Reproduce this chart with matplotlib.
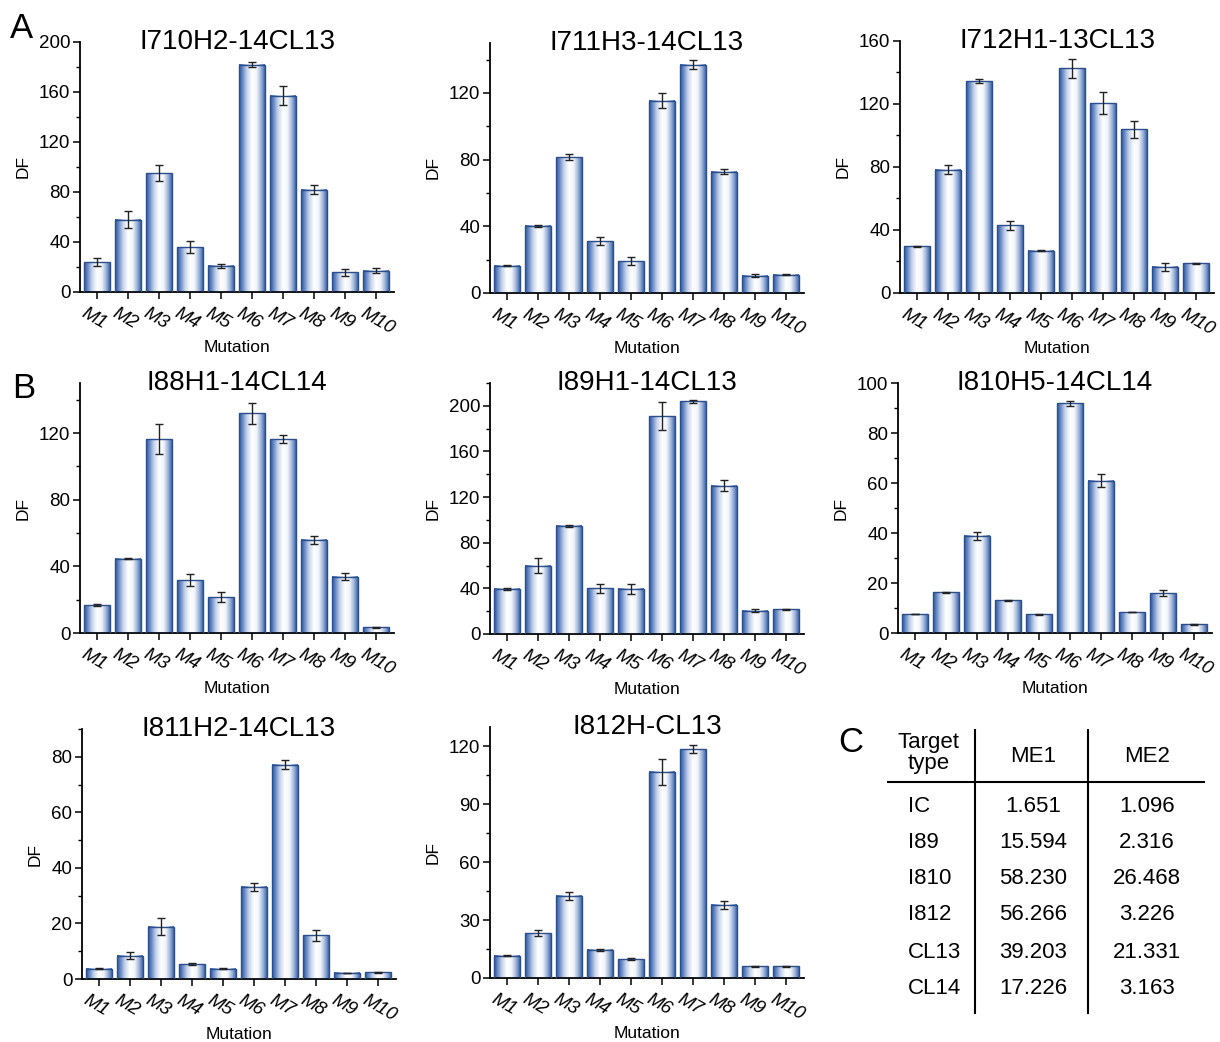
import matplotlib
matplotlib.use("Agg")
import matplotlib.pyplot as plt
import numpy as np
from matplotlib.colors import LinearSegmentedColormap
from matplotlib.ticker import MultipleLocator
from matplotlib.lines import Line2D
from matplotlib.transforms import ScaledTranslation

plt.rcParams["font.family"] = ["Liberation Sans", "DejaVu Sans"]

mutations = ["M1", "M2", "M3", "M4", "M5", "M6", "M7", "M8", "M9", "M10"]

titles = ["I710H2-14CL13", "I711H3-14CL13", "I712H1-13CL13",
          "I88H1-14CL14", "I89H1-14CL13", "I810H5-14CL14",
          "I811H2-14CL13", "I812H-CL13"]

df_i710 = [24, 58, 95, 36, 21, 182, 157, 82, 15.7, 17]
err_i710 = [3, 7, 6.5, 5, 1.6, 2, 7.7, 3.5, 3, 2]
df_i711 = [16.4, 40.3, 81.5, 31, 19.2, 115.4, 137, 72.7, 10.4, 11]
err_i711 = [0.5, 0.5, 2, 2.5, 2.5, 4.4, 2.7, 1.6, 0.8, 0.4]
df_i712 = [29.8, 78.3, 134.6, 43, 26.9, 142.6, 120.4, 104.1, 16.7, 18.8]
err_i712 = [0.3, 3, 1.5, 3, 0.5, 5.9, 7, 5.4, 2.5, 0.3]
df_i88 = [16.8, 44.6, 116.4, 31.8, 21.4, 131.8, 116.4, 56, 33.8, 3.4]
err_i88 = [0.6, 0.3, 9.2, 3.8, 3, 6.2, 2.2, 2.5, 2, 0.3]
df_i89 = [39.5, 60, 94.7, 40, 39.5, 191, 203.8, 130, 20.5, 21.6]
err_i89 = [1, 6.9, 1.2, 4, 4.5, 12, 1, 4.8, 1.5, 0.6]
df_i810 = [7.6, 16.3, 38.9, 13.1, 7.6, 91.9, 61, 8.4, 15.9, 3.5]
err_i810 = [0.1, 0.1, 1.7, 0.2, 0.2, 1.1, 2.7, 0.1, 1.2, 0.2]
df_i811 = [3.7, 8.4, 18.9, 5.3, 3.7, 33.2, 77.2, 15.7, 2.2, 2.4]
err_i811 = [0.1, 1.3, 2.9, 0.3, 0.1, 1.5, 1.7, 1.9, 0.1, 0.1]
df_i812 = [11.5, 23.2, 42.5, 14.6, 9.8, 106.7, 118.6, 37.9, 6, 6]
err_i812 = [0.3, 1.7, 2.3, 0.5, 0.3, 6.9, 1.9, 2.1, 0.3, 0.2]

all_vals = [df_i710, df_i711, df_i712, df_i88, df_i89, df_i810, df_i811, df_i812]
all_errs = [err_i710, err_i711, err_i712, err_i88, err_i89, err_i810, err_i811, err_i812]

# axis settings: (ymax, major step, minor step)
ysets = [(200, 40, 20), (150, 40, 20), (160, 40, 20),
         (150, 40, 20), (220, 40, 20), (100, 20, 10),
         (90, 20, 10), (130, 30, 15)]

# table C
tab_types = ["IC", "I89", "I810", "I812", "CL13", "CL14"]
tab_me1 = ["1.651", "15.594", "58.230", "56.266", "39.203", "17.226"]
tab_me2 = ["1.096", "2.316", "26.468", "3.226", "21.331", "3.163"]

W, H = 1220, 1042
fig = plt.figure(figsize=(12.2, 10.42), dpi=100)

# positions in pixels: left, bottom(y of x-axis), top
boxes = [(80, 292, 42), (490, 293, 43), (900, 293, 41),
         (80, 633, 383), (490, 634, 383), (898, 633, 383),
         (82, 979, 729), (490, 978, 727)]
axw = 314

grad = LinearSegmentedColormap.from_list(
    "bargrad", [(0.0, "#2a57a2"), (0.12, "#5f82bf"), (0.3, "#c3d1ea"),
                (0.5, "#ffffff"), (0.68, "#f2f5fb"), (0.85, "#9fb4da"),
                (1.0, "#3a64ab")])
gimg = np.linspace(0, 1, 256).reshape(1, -1)

x = np.arange(1, 11)
bw = 0.82

for i in range(8):
    l, b, t = boxes[i]
    ax = fig.add_axes([l / W, 1 - b / H, axw / W, (b - t) / H])
    vals = all_vals[i]
    errs = all_errs[i]
    bars = ax.bar(x, vals, width=bw, color="none", edgecolor="#2c4f8c",
                  linewidth=1.0, zorder=3)
    for rect in bars:
        x0 = rect.get_x()
        ax.imshow(gimg, cmap=grad, extent=[x0, x0 + rect.get_width(), 0, rect.get_height()],
                  aspect="auto", zorder=2, interpolation="bilinear")
    ax.errorbar(x, vals, yerr=errs, fmt="none", ecolor="#222222",
                elinewidth=1.0, capsize=2.8, capthick=1.0, zorder=4)
    ymax, maj, mnr = ysets[i]
    ax.set_xlim(0.45, 10.58)
    ax.set_ylim(0, ymax)
    ax.yaxis.set_major_locator(MultipleLocator(maj))
    ax.yaxis.set_minor_locator(MultipleLocator(mnr))
    ax.set_xticks(x)
    ax.set_xticklabels(mutations, rotation=-30, ha="left", va="top",
                       fontstyle="italic", fontsize=13.5, rotation_mode="anchor")
    ax.tick_params(axis="y", labelsize=13.5, direction="out", length=5, width=1.1, pad=2)
    ax.tick_params(axis="y", which="minor", direction="out", length=3, width=1.0)
    ax.tick_params(axis="x", direction="out", length=5, width=1.1, pad=4)
    for s in ["top", "right"]:
        ax.spines[s].set_visible(False)
    for s in ["left", "bottom"]:
        ax.spines[s].set_linewidth(1.3)
    ax.set_ylabel("DF", fontsize=12.5, labelpad=6)
    ax.set_xlabel("Mutation", fontsize=12.5, labelpad=2)
    ax.text(0.5, 1.0, titles[i], transform=ax.transAxes, ha="center",
            va="center", fontsize=20, zorder=6)
    # nudge tick labels left so they sit under the ticks
    off = ScaledTranslation(-10 / 100, 0, fig.dpi_scale_trans)
    for lab in ax.get_xticklabels():
        lab.set_transform(lab.get_transform() + off)

fig.text(10 / W, 1 - 28 / H, "A", fontsize=25, va="center", ha="left")
fig.text(12 / W, 1 - 388 / H, "B", fontsize=25, va="center", ha="left")
fig.text(838 / W, 1 - 742 / H, "C", fontsize=25, va="center", ha="left")

# table C
def fx(px):
    return px / W

def fy(py):
    return 1 - py / H

fig.add_artist(Line2D([fx(888), fx(1204)], [fy(782), fy(782)], color="black", lw=1.5))
fig.add_artist(Line2D([fx(975), fx(975)], [fy(730), fy(1013)], color="black", lw=1.5))
fig.add_artist(Line2D([fx(1088), fx(1088)], [fy(730), fy(1013)], color="black", lw=1.5))
fig.text(fx(929), fy(753), "Target\ntype", fontsize=16, ha="center", va="center",
         linespacing=0.95)
fig.text(fx(1033), fy(757), "ME1", fontsize=16, ha="center", va="center")
fig.text(fx(1147), fy(757), "ME2", fontsize=16, ha="center", va="center")
row_y = [806, 842, 879, 915, 952, 989]
for k in range(len(tab_types)):
    fig.text(fx(908), fy(row_y[k]), tab_types[k], fontsize=16, ha="left", va="center")
    fig.text(fx(1033), fy(row_y[k]), tab_me1[k], fontsize=16, ha="center", va="center")
    fig.text(fx(1147), fy(row_y[k]), tab_me2[k], fontsize=16, ha="center", va="center")

fig.savefig("out.png", dpi=100)
